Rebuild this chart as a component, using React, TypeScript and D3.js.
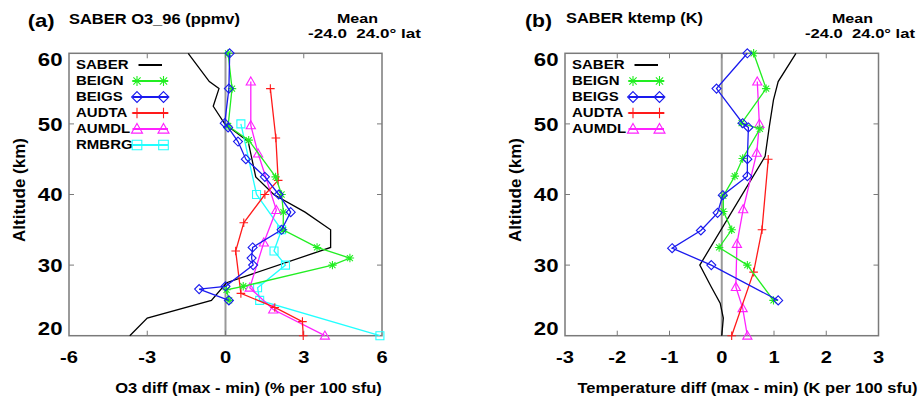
import React from "react";
import * as d3 from "d3";

// ---------- Data: panel (a) O3 ----------
const O3_SABER_ALT = [60, 56, 55, 52.5, 50, 47.5, 42.5, 40, 37.5, 35, 32.5, 27.5, 25, 22.5, 20];
const O3_SABER = [-1.43, -0.62, -0.25, -0.47, -0.03, 0.87, 1.16, 1.85, 3.05, 4.03, 4.03, 0.04, -0.54, -3.0, -3.67];

const O3_BEIGN_ALT = [60, 55, 49.7, 47.7, 42.5, 40, 37.5, 35, 32.5, 31, 30, 27, 26.5, 25];
const O3_BEIGN = [0.1, 0.25, 0.1, 0.89, 1.92, 2.15, 2.22, 2.21, 3.51, 4.77, 4.1, 0.68, 0.04, 0.14];

const O3_BEIGS_ALT = [60, 55, 50.1, 49.5, 47.5, 45, 42.5, 40, 37.5, 35, 32.5, 31, 30, 27, 26.6, 25];
const O3_BEIGS = [0.16, 0.13, -0.03, 0.1, 0.48, 0.78, 1.51, 2.04, 2.5, 2.15, 1.04, 1.0, 1.06, 0.0, -1.01, 0.13];

const O3_AUDTA_ALT = [55, 48, 42, 40, 36, 32, 26, 24, 22, 20];
const O3_AUDTA = [1.72, 1.93, 2.02, 1.51, 0.7, 0.39, 0.59, 1.89, 2.95, 2.98];

const O3_AUMDL_ALT = [56, 49.8, 45.8, 37.8, 33.2, 26.8, 23.7, 20];
const O3_AUMDL = [0.97, 0.97, 1.25, 1.95, 1.47, 0.93, 1.83, 3.81];

const O3_RMBRG_ALT = [50, 40, 35, 32, 30, 26.8, 25, 20];
const O3_RMBRG = [0.59, 1.19, 2.15, 1.86, 2.3, 1.23, 1.31, 5.92];

// ---------- Data: panel (b) temperature ----------
const T_SABER_ALT = [60, 56, 53.4, 49.6, 45.4, 30, 26.9, 24.6, 22.5, 20];
const T_SABER = [1.42, 1.08, 0.99, 0.91, 0.83, -0.42, -0.2, -0.03, 0.03, 0.0];

const T_BEIGN_ALT = [60, 55, 50.1, 49.3, 45.1, 42.6, 39.8, 37.6, 35, 32.5, 30, 25];
const T_BEIGN = [0.61, 0.85, 0.38, 0.73, 0.4, 0.25, 0.03, 0.03, 0.19, -0.05, 0.49, 0.99];

const T_BEIGS_ALT = [60, 55, 50.1, 49.5, 45, 42.6, 39.9, 37.4, 34.9, 32.4, 30, 25];
const T_BEIGS = [0.49, -0.1, 0.4, 0.51, 0.49, 0.49, 0.02, -0.08, -0.4, -0.95, -0.2, 1.08];

const T_AUDTA_ALT = [45, 35, 29, 20];
const T_AUDTA = [0.89, 0.77, 0.61, 0.19];

const T_AUMDL_ALT = [56, 50, 45.9, 37.9, 33, 26.9, 23.9, 20];
const T_AUMDL = [0.68, 0.72, 0.67, 0.41, 0.29, 0.27, 0.4, 0.49];

// ---------- Axes ----------
const O3_XTICKS = [-6, -3, 0, 3, 6];
const T_XTICKS = [-3, -2, -1, 0, 1, 2, 3];
const Y_TICKS = [20, 30, 40, 50, 60];

const SERIES_NAMES = ["SABER", "BEIGN", "BEIGS", "AUDTA", "AUMDL", "RMBRG"];

type Marker = "none" | "asterisk" | "diamond" | "plus" | "triangle" | "square";
const STYLE: Record<string, { color: string; marker: Marker }> = {
  SABER: { color: "#000000", marker: "none" },
  BEIGN: { color: "#22ee22", marker: "asterisk" },
  BEIGS: { color: "#1a1aee", marker: "diamond" },
  AUDTA: { color: "#ff1a1a", marker: "plus" },
  AUMDL: { color: "#ff22ff", marker: "triangle" },
  RMBRG: { color: "#22ffff", marker: "square" },
};

function markerPath(m: Marker, s = 1): string {
  if (m === "asterisk") {
    const r = 4.2 * s, d = r * 0.72;
    return `M${-r},0L${r},0M0,${-r}L0,${r}M${-d},${-d}L${d},${d}M${-d},${d}L${d},${-d}`;
  }
  if (m === "diamond") {
    const r = 4.5 * s;
    return `M0,${-r}L${r},0L0,${r}L${-r},0Z`;
  }
  if (m === "plus") {
    const r = 4.3 * s;
    return `M${-r},0L${r},0M0,${-r}L0,${r}`;
  }
  if (m === "triangle") {
    const r = 4.6 * s;
    return `M0,${-r}L${r},${r * 0.75}L${-r},${r * 0.75}Z`;
  }
  if (m === "square") {
    const r = 4 * s;
    return `M${-r},${-r}h${2 * r}v${2 * r}h${-2 * r}Z`;
  }
  return "";
}

type Series = { name: string; alt: number[]; val: number[] };

const FRAME = "#7a7a7a";
const TOP = 53.3;
const BOTTOM = 335.7;

function ST({ x, y, sx = 1, size, anchor = "start", children, weight = 700, len }: any) {
  return (
    <text
      transform={`translate(${x},${y}) scale(${sx},1)`}
      fontSize={size}
      fontWeight={weight}
      textAnchor={anchor}
      fontFamily="Liberation Sans, Arial, sans-serif"
      fill="#000"
      style={{ whiteSpace: "pre" }}
      {...(len ? { textLength: len, lengthAdjust: "spacingAndGlyphs" } : {})}
    >
      {children}
    </text>
  );
}

function Panel({
  x0, x1, domain, xticks, series, label, title, xTitle, xTitleCx, xTitleLen,
  titleLen, tagX, titleX, titleY, meanCx, latX, latLen, legendNames,
}: any) {
  const x = d3.scaleLinear().domain(domain).range([x0, x1]);
  const y = d3.scaleLinear().domain([20, 60]).range([BOTTOM, TOP]);
  const line = d3.line<[number, number]>().x((d) => x(d[0])).y((d) => y(d[1]));
  const tl = 5;
  const innerX = xticks.filter((t: number) => t !== domain[0] && t !== domain[1]);
  const innerY = Y_TICKS.filter((t) => t !== 20 && t !== 60);
  const legX = x0 + 7;
  const legLineX0 = x0 + 63.5;
  const legLineX1 = x0 + 99;
  return (
    <g>
      {/* zero line */}
      <line x1={x(0)} x2={x(0)} y1={TOP} y2={BOTTOM} stroke="#9a9a9a" strokeWidth={2} />
      {/* frame */}
      <rect x={x0} y={TOP} width={x1 - x0} height={BOTTOM - TOP} fill="none" stroke={FRAME} strokeWidth={1.5} />
      {innerX.map((t: number) => (
        <g key={"xt" + t}>
          <line x1={x(t)} x2={x(t)} y1={BOTTOM} y2={BOTTOM - tl} stroke={FRAME} strokeWidth={1} />
          <line x1={x(t)} x2={x(t)} y1={TOP} y2={TOP + tl} stroke={FRAME} strokeWidth={1} />
        </g>
      ))}
      {innerY.map((t) => (
        <g key={"yt" + t}>
          <line x1={x0} x2={x0 + tl} y1={y(t)} y2={y(t)} stroke={FRAME} strokeWidth={1} />
          <line x1={x1} x2={x1 - tl} y1={y(t)} y2={y(t)} stroke={FRAME} strokeWidth={1} />
        </g>
      ))}
      {/* series */}
      {series.map((s: Series) => {
        const st = STYLE[s.name];
        const pts: [number, number][] = s.val.map((v, i) => [v, s.alt[i]]);
        return (
          <g key={s.name}>
            <path d={line(pts) || ""} fill="none" stroke={st.color} strokeWidth={1.3} />
            {st.marker !== "none" &&
              pts.map((p, i) => (
                <path
                  key={i}
                  d={markerPath(st.marker)}
                  transform={`translate(${x(p[0])},${y(p[1])})`}
                  fill="none"
                  stroke={st.color}
                  strokeWidth={1.1}
                />
              ))}
          </g>
        );
      })}
      {/* legend */}
      {legendNames.map((n: string, i: number) => {
        const st = STYLE[n];
        const cy = 65 + i * 16;
        return (
          <g key={"lg" + n}>
            <ST x={legX} y={cy + 4.4} size={12.5} sx={1.2}>{n}</ST>
            {st.marker === "none" ? (
              <line x1={legLineX0 + 6} x2={legLineX1 - 6} y1={cy} y2={cy} stroke={st.color} strokeWidth={2} />
            ) : (
              <g>
                <line x1={legLineX0} x2={legLineX1} y1={cy} y2={cy} stroke={st.color} strokeWidth={2.2} />
                <path d={markerPath(st.marker, 1.2)} transform={`translate(${legLineX0 + 4.5},${cy})`} fill="none" stroke={st.color} strokeWidth={1.1} />
                <path d={markerPath(st.marker, 1.2)} transform={`translate(${legLineX1 - 4.5},${cy})`} fill="none" stroke={st.color} strokeWidth={1.1} />
              </g>
            )}
          </g>
        );
      })}
      {/* y tick labels */}
      {Y_TICKS.map((t) => {
        let by = y(t) + 6.7;
        if (t === 60) by = 66;
        if (t === 20) by = 335;
        return (
          <ST key={"yl" + t} x={x0 - 6.5} y={by} size={18.5} sx={1.2} anchor="end">{t}</ST>
        );
      })}
      {/* x tick labels */}
      {xticks.map((t: number) => (
        <ST key={"xl" + t} x={x(t)} y={363.3} size={16.5} sx={1.22} anchor="middle">{t}</ST>
      ))}
      {/* axis titles */}
      <text
        transform={`translate(${x0 - 44},190) rotate(-90)`}
        fontSize={17}
        fontWeight={700}
        textAnchor="middle"
        fontFamily="Liberation Sans, Arial, sans-serif"
      >
        Altitude (km)
      </text>
      <ST x={xTitleCx} y={392.7} size={15.4} anchor="middle" len={xTitleLen}>{xTitle}</ST>
      {/* titles */}
      <ST x={tagX} y={26.5} size={19} len={27}>{label}</ST>
      <ST x={titleX} y={titleY} size={14.5} len={titleLen}>{title}</ST>
      <ST x={meanCx} y={23} size={13.5} anchor="middle" len={41}>Mean</ST>
      <ST x={latX} y={38} size={13.5} len={latLen}>{"-24.0\u00a0\u00a024.0\u00b0 lat"}</ST>
    </g>
  );
}

export default function App() {
  const o3Series: Series[] = [
    { name: "SABER", alt: O3_SABER_ALT, val: O3_SABER },
    { name: "RMBRG", alt: O3_RMBRG_ALT, val: O3_RMBRG },
    { name: "AUMDL", alt: O3_AUMDL_ALT, val: O3_AUMDL },
    { name: "AUDTA", alt: O3_AUDTA_ALT, val: O3_AUDTA },
    { name: "BEIGN", alt: O3_BEIGN_ALT, val: O3_BEIGN },
    { name: "BEIGS", alt: O3_BEIGS_ALT, val: O3_BEIGS },
  ];
  const tSeries: Series[] = [
    { name: "SABER", alt: T_SABER_ALT, val: T_SABER },
    { name: "AUMDL", alt: T_AUMDL_ALT, val: T_AUMDL },
    { name: "AUDTA", alt: T_AUDTA_ALT, val: T_AUDTA },
    { name: "BEIGN", alt: T_BEIGN_ALT, val: T_BEIGN },
    { name: "BEIGS", alt: T_BEIGS_ALT, val: T_BEIGS },
  ];
  return (
    <svg
      width={921}
      height={401}
      style={{ position: "absolute", left: 0, top: 0, background: "#fff" }}
    >
      <rect x={0} y={0} width={921} height={401} fill="#fff" />
      <Panel
        x0={69}
        x1={382}
        domain={[-6, 6]}
        xticks={O3_XTICKS}
        series={o3Series}
        label="(a)"
        tagX={27.7}
        title="SABER O3_96 (ppmv)"
        titleX={69}
        titleY={24}
        titleLen={171}
        meanCx={357.5}
        latX={308}
        latLen={113}
        xTitle="O3 diff (max - min) (% per 100 sfu)"
        xTitleCx={248.5}
        xTitleLen={266.5}
        legendNames={SERIES_NAMES}
      />
      <Panel
        x0={565}
        x1={878.5}
        domain={[-3, 3]}
        xticks={T_XTICKS}
        series={tSeries}
        label="(b)"
        tagX={525}
        title="SABER ktemp (K)"
        titleX={566}
        titleY={23}
        titleLen={137}
        meanCx={852.5}
        latX={805}
        latLen={110}
        xTitle="Temperature diff (max - min) (K per 100 sfu)"
        xTitleCx={747.5}
        xTitleLen={340}
        legendNames={SERIES_NAMES.slice(0, 5)}
      />
    </svg>
  );
}
